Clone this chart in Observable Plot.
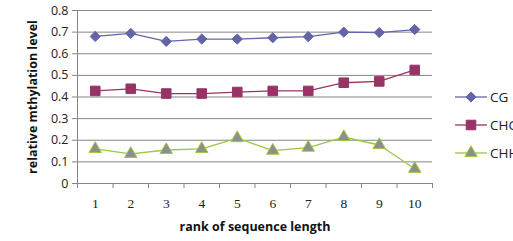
<!DOCTYPE html>
<html><head><meta charset="utf-8">
<script src="https://cdn.jsdelivr.net/npm/d3@7"></script>
<script src="https://cdn.jsdelivr.net/npm/@observablehq/plot@0.6"></script>
<style>
html,body{margin:0;padding:0;background:#fff;overflow:hidden;width:513px;height:241px}
#wrap{position:relative;width:513px;height:241px}
#legend{position:absolute;left:0;top:0}
</style></head>
<body><div id="wrap"></div>
<script>
const categories = [1, 2, 3, 4, 5, 6, 7, 8, 9, 10];
const seriesNames = ["CG", "CHG", "CHH"];
const cgValues  = [0.680, 0.694, 0.657, 0.668, 0.668, 0.674, 0.679, 0.700, 0.698, 0.712];
const chgValues = [0.428, 0.438, 0.416, 0.416, 0.423, 0.428, 0.428, 0.466, 0.472, 0.525];
const chhValues = [0.160, 0.137, 0.155, 0.160, 0.210, 0.152, 0.166, 0.215, 0.178, 0.068];
const yTicks = [0, 0.1, 0.2, 0.3, 0.4, 0.5, 0.6, 0.7, 0.8];
const xTitle = "rank of sequence length";
const yTitle = "relative mthylation level";

const styles = {
  CG:  {line: "#6466aa", fill: "#6264a6", stroke: "#6264a6", symbol: "diamond2", r: 4.6},
  CHG: {line: "#9a3467", fill: "#993366", stroke: "#993366", symbol: "square", r: 5.4},
  CHH: {line: "#9cc83c", fill: "#8e8e8e", stroke: "#9cc83c", symbol: "triangle", r: 4.6}
};
const valuesBySeries = {CG: cgValues, CHG: chgValues, CHH: chhValues};
const rows = seriesNames.flatMap(s => categories.map((c, i) => ({series: s, rank: c, value: valuesBySeries[s][i]})));
const boundaries = [...categories.map(c => c - 0.5), categories[categories.length - 1] + 0.5];

const marks = [
  Plot.gridY(yTicks, {stroke: "#868686", strokeOpacity: 1}),
  Plot.axisY(yTicks, {tickSize: 5, tickPadding: 4, stroke: "#868686", label: null,
    tickFormat: d => d === 0 ? "0" : d.toFixed(1), fontSize: 12.5, fontFamily: "Open Sans", fill: "#222"}),
  Plot.ruleX([boundaries[0]], {stroke: "#868686"}),
  Plot.ruleY([0], {stroke: "#868686"}),
  Plot.axisX(boundaries, {tickSize: 5, stroke: "#868686", tickFormat: () => "", label: null}),
  Plot.axisX(categories, {tickSize: 0, tickPadding: 15, label: null, fontFamily: "Liberation Serif", fontSize: 13.5, fill: "#222"}),
  Plot.text([xTitle], {text: d => d, frameAnchor: "bottom", dy: 47, fontWeight: "bold", fontSize: 12.5, fontFamily: "Open Sans", fill: "#111"}),
  Plot.text([yTitle], {text: d => d, frameAnchor: "left", textAnchor: "middle", dx: -45, rotate: -90, fontWeight: "bold", fontSize: 12.5, fontFamily: "Open Sans", fill: "#111"})
];
for (const s of seriesNames) {
  const st = styles[s];
  const data = rows.filter(d => d.series === s);
  marks.push(Plot.line(data, {x: "rank", y: "value", stroke: st.line, strokeWidth: 1.3}));
  marks.push(Plot.dot(data, {x: "rank", y: "value", symbol: () => st.symbol, r: st.r, fill: st.fill, stroke: st.stroke, strokeWidth: 1}));
}

const chart = Plot.plot({
  width: 513, height: 241,
  marginLeft: 77, marginRight: 81, marginTop: 10, marginBottom: 58,
  x: {domain: [boundaries[0], boundaries[boundaries.length - 1]]},
  y: {domain: [0, 0.8]},
  symbol: {type: "identity"},
  style: {background: "#fff", overflow: "visible"},
  marks
});
const wrap = document.getElementById("wrap");
wrap.appendChild(chart);

// legend (text is cut by the window edge, as in the reference)
const symMap = {diamond2: d3.symbolDiamond2, square: d3.symbolSquare, triangle: d3.symbolTriangle};
const leg = d3.select(wrap).append("svg").attr("id", "legend").attr("width", 513).attr("height", 241);
seriesNames.forEach((s, i) => {
  const st = styles[s];
  const g = leg.append("g").attr("transform", `translate(455,${97 + i * 28})`);
  g.append("line").attr("x1", 0).attr("x2", 32).attr("stroke", st.line).attr("stroke-width", 1.3);
  g.append("path").attr("transform", "translate(16,0)")
    .attr("d", d3.symbol(symMap[st.symbol], Math.PI * st.r * st.r)())
    .attr("fill", st.fill).attr("stroke", st.stroke);
  g.append("text").attr("x", 35).attr("dy", "0.35em").attr("font-family", "Open Sans")
    .attr("font-size", 13.5).attr("fill", "#222").text(s);
});
</script></body></html>
